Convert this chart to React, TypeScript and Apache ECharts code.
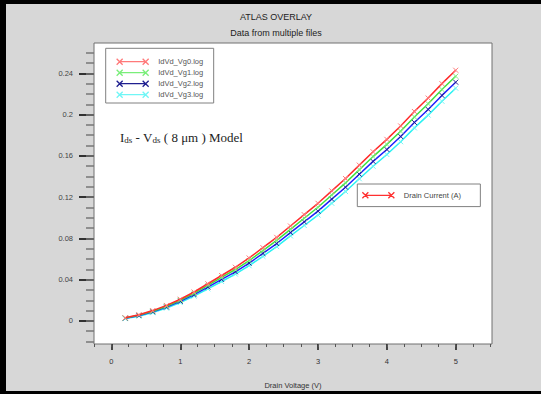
import React, { useEffect, useRef } from "react";
import * as echarts from "echarts";

// ---- data ----
const voltages = [0.2, 0.4, 0.6, 0.8, 1.0, 1.2, 1.4, 1.6, 1.8, 2.0, 2.2, 2.4, 2.6, 2.8, 3.0, 3.2, 3.4, 3.6, 3.8, 4.0, 4.2, 4.4, 4.6, 4.8, 5.0];
const idVg0 = [0.003, 0.006, 0.010, 0.015, 0.021, 0.028, 0.036, 0.044, 0.052, 0.061, 0.071, 0.081, 0.092, 0.103, 0.114, 0.126, 0.138, 0.151, 0.164, 0.176, 0.189, 0.203, 0.216, 0.230, 0.243];
const idVg1 = [0.0028, 0.0056, 0.0094, 0.0142, 0.0200, 0.0267, 0.0344, 0.0421, 0.0498, 0.0585, 0.0682, 0.0780, 0.0888, 0.0995, 0.1102, 0.1220, 0.1338, 0.1466, 0.1593, 0.1711, 0.1839, 0.1977, 0.2105, 0.2243, 0.2372];
const idVg2 = [0.0026, 0.0052, 0.0088, 0.0134, 0.0190, 0.0254, 0.0328, 0.0402, 0.0476, 0.0560, 0.0654, 0.0750, 0.0856, 0.0960, 0.1064, 0.1180, 0.1296, 0.1422, 0.1546, 0.1662, 0.1788, 0.1924, 0.2050, 0.2186, 0.2314];
const idVg3 = [0.0022, 0.0046, 0.0080, 0.0124, 0.0178, 0.0240, 0.0311, 0.0382, 0.0454, 0.0535, 0.0626, 0.0720, 0.0824, 0.0925, 0.1026, 0.1140, 0.1254, 0.1378, 0.1499, 0.1613, 0.1737, 0.1871, 0.1995, 0.2129, 0.2256];

const seriesNames = ["IdVd_Vg0.log", "IdVd_Vg1.log", "IdVd_Vg2.log", "IdVd_Vg3.log"];
const seriesValues = [idVg0, idVg1, idVg2, idVg3];
const overlayName = "Drain Current (A)";

const yMajorTicks = [0, 0.04, 0.08, 0.12, 0.16, 0.2, 0.24];
const yMinorTicks = [-0.02, -0.01, 0, 0.01, 0.02, 0.03, 0.04, 0.05, 0.06, 0.07, 0.08, 0.09, 0.1, 0.11, 0.12, 0.13, 0.14, 0.15, 0.16, 0.17, 0.18, 0.19, 0.2, 0.21, 0.22, 0.23, 0.24, 0.25, 0.26];
const xMajorTicks = [0, 1, 2, 3, 4, 5];
const xMinorTicks = [-0.25, 0, 0.25, 0.5, 0.75, 1, 1.25, 1.5, 1.75, 2, 2.25, 2.5, 2.75, 3, 3.25, 3.5, 3.75, 4, 4.25, 4.5, 4.75, 5, 5.25, 5.5];

const titleText = "ATLAS OVERLAY";
const subtitleText = "Data from multiple files";
const xAxisName = "Drain Voltage (V)";

// ---- styles ----
const lineColors = ["#ff2a2a", "#3ee23e", "#2020ff", "#2af2f2"];
const markerColors = ["#ff7a7a", "#7aee7a", "#202090", "#70f6f6"];
const overlayColor = "#ff3030";
const SANS = "Liberation Sans, Arial, sans-serif";
const SERIF = "Liberation Serif, Times New Roman, serif";
const X_MIN = -0.253;
const X_MAX = 5.527;
const Y_MIN = -0.0224;
const Y_MAX = 0.2694;
const crossSymbol = "path://M0,0L10,10M10,0L0,10";
const legendIcon = "path://M0,0L6,6M0,6L6,0M26,0L32,6M26,6L32,0M3,3L29,3";

export default function App() {
  const ref = useRef<HTMLDivElement>(null);

  useEffect(() => {
    if (!ref.current) return;
    const chart = echarts.init(ref.current, undefined, { renderer: "svg" });

    const series: any[] = seriesNames.map((name, i) => ({
      type: "line",
      name,
      data: voltages.map((v, j) => [v, seriesValues[i][j]]),
      xAxisIndex: 0,
      yAxisIndex: 0,
      color: lineColors[i],
      symbol: crossSymbol,
      symbolSize: 5,
      showAllSymbol: true,
      lineStyle: { width: 1.5, color: lineColors[i] },
      itemStyle: { color: lineColors[i], borderColor: markerColors[i], borderWidth: 1 },
      z: 10 - i,
    }));
    series.push({
      type: "line",
      name: overlayName,
      data: [],
      color: overlayColor,
      lineStyle: { width: 1.5, color: overlayColor },
    });

    const tickAxisCommon = {
      type: "value",
      axisLine: { show: false, onZero: false },
      splitLine: { show: false },
    };

    chart.setOption({
      animation: false,
      backgroundColor: "#d7d7d7",
      grid: {
        left: 94,
        right: 49,
        top: 43,
        bottom: 47,
        show: true,
        backgroundColor: "#ffffff",
        borderColor: "#707070",
        borderWidth: 1,
      },
      xAxis: [
        {
          ...tickAxisCommon,
          min: X_MIN,
          max: X_MAX,
          position: "bottom",
          axisTick: { customValues: xMajorTicks, length: 6, lineStyle: { color: "#222", width: 1.6 } },
          axisLabel: { customValues: xMajorTicks, margin: 13, fontSize: 7.5, color: "#333", fontFamily: SANS },
          name: xAxisName,
          nameLocation: "middle",
          nameGap: 37,
          nameTextStyle: { fontSize: 7.5, color: "#333", fontFamily: SANS },
        },
        {
          ...tickAxisCommon,
          min: X_MIN,
          max: X_MAX,
          position: "bottom",
          axisTick: { customValues: xMinorTicks, length: 3, lineStyle: { color: "#555", width: 1 } },
          axisLabel: { show: false },
        },
      ],
      yAxis: [
        {
          ...tickAxisCommon,
          min: Y_MIN,
          max: Y_MAX,
          position: "left",
          axisTick: { customValues: yMajorTicks, length: 15, lineStyle: { color: "#333", width: 2 } },
          axisLabel: { customValues: yMajorTicks, margin: 21, fontSize: 7.5, color: "#444", fontFamily: SANS },
        },
        {
          ...tickAxisCommon,
          min: Y_MIN,
          max: Y_MAX,
          position: "left",
          axisTick: { customValues: yMinorTicks, length: 8, lineStyle: { color: "#777", width: 1.5 } },
          axisLabel: { show: false },
        },
      ],
      legend: [
        {
          data: seriesNames,
          orient: "vertical",
          left: 105.7,
          top: 48.3,
          padding: [9.4, 10.5, 4.3, 10.3],
          itemWidth: 32,
          itemHeight: 6,
          itemGap: 3,
          icon: legendIcon,
          itemStyle: { borderWidth: 1.3 },
          backgroundColor: "#ffffff",
          borderColor: "#808080",
          borderWidth: 1,
          selectedMode: false,
          textStyle: { fontSize: 7.5, color: "#555", fontFamily: SANS, lineHeight: 8, padding: [0, 0, 0, 4.5] },
        },
        {
          data: [overlayName],
          orient: "vertical",
          left: 357.3,
          top: 184,
          padding: [7.3, 19.4, 7.3, 4.4],
          itemWidth: 32,
          itemHeight: 6,
          icon: legendIcon,
          itemStyle: { color: overlayColor, borderColor: overlayColor, borderWidth: 1.3 },
          backgroundColor: "#ffffff",
          borderColor: "#808080",
          borderWidth: 1,
          selectedMode: false,
          textStyle: { fontSize: 7.5, color: "#444", fontFamily: SANS, lineHeight: 8, padding: [0, 0, 0, 4.5] },
        },
      ],
      graphic: [
        { type: "rect", shape: { x: 0, y: 0, width: 6, height: 394 }, style: { fill: "#000" }, z: 100 },
        { type: "rect", shape: { x: 0, y: 0, width: 541, height: 4 }, style: { fill: "#000" }, z: 100 },
        { type: "rect", shape: { x: 0, y: 391, width: 541, height: 3 }, style: { fill: "#000" }, z: 100 },
        {
          type: "text",
          x: 276,
          y: 17,
          style: { text: titleText, align: "center", verticalAlign: "middle", fontSize: 9, fontFamily: SANS, fill: "#222" },
        },
        {
          type: "text",
          x: 276,
          y: 33,
          style: { text: subtitleText, align: "center", verticalAlign: "middle", fontSize: 9, fontFamily: SANS, fill: "#222" },
        },
        {
          type: "text",
          x: 120,
          y: 137,
          z: 20,
          style: {
            text: "{a|I}{s|ds}{a| - V}{s|ds}{a| ( 8 μm ) Model}",
            verticalAlign: "middle",
            align: "left",
            rich: {
              a: { fontSize: 13, fontFamily: SERIF, fill: "#222", lineHeight: 14 },
              s: { fontSize: 9, fontFamily: SERIF, fill: "#222", lineHeight: 7, verticalAlign: "bottom" },
            },
          },
        },
      ],
      series,
    });

    return () => chart.dispose();
  }, []);

  return <div ref={ref} style={{ position: "fixed", left: 0, top: 0, width: 541, height: 394 }} />;
}
